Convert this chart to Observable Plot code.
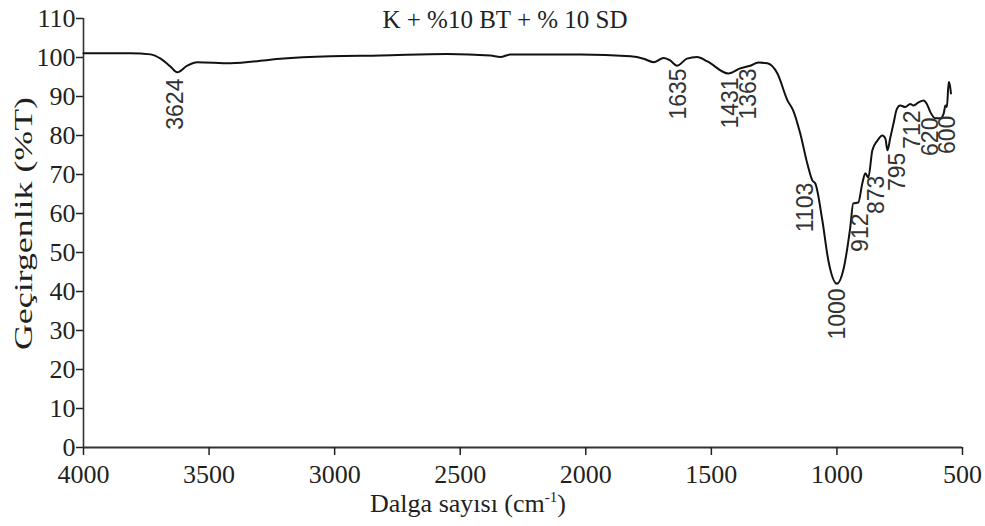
<!DOCTYPE html>
<html><head><meta charset="utf-8">
<script src="https://cdn.jsdelivr.net/npm/d3@7"></script>
<script src="https://cdn.jsdelivr.net/npm/@observablehq/plot@0.6"></script>
<style>body{margin:0;background:#fff}</style>
</head><body><div id="chart"></div>
<script>
const wavenumber = [4000,3985,3813,3733,3693,3654,3627,3587,3547,3415,3216,3017,2818,2552,2380,2340,2300,2021,1822,1770,1730,1690,1663,1637,1597,1557,1516,1432,1385,1345,1313,1277,1237,1197,1174,1146,1118,1098,1086,1058,1034,1000,975,947,935,915,899,887,875,859,839,819,807,799,787,775,762,748,728,708,695,675,655,642,628,608,588,575,568,562,555,549,546];
const transmittance = [101.1,101.1,101.1,100.8,99.7,97.7,96.2,97.9,98.8,98.5,99.7,100.3,100.5,100.9,100.5,100.1,100.8,100.8,100.3,99.7,98.8,99.9,99.2,97.9,99.7,100.1,99.0,95.9,97.2,97.9,98.7,98.5,95.9,89.0,86.4,80.5,72.8,68.5,67.7,58.2,47.9,42.0,45.4,56.4,62.6,62.8,67.7,70.3,69.2,76.2,78.7,80.0,79.2,76.2,79.6,83.0,86.7,87.7,87.3,88.1,87.7,88.5,89.0,88.1,86.0,84.4,84.4,85.6,87.7,87.3,93.7,92.4,90.8];
const peakLabels = ["3624","1635","1431","1363","1103","1000","912","873","795","712","620","600"];
const peakLabelX = [3634,1631,1424,1353,1126,998,907,840,760,700,628,560];
const peakLabelTop = [94.6,97.2,94.9,97.2,67.9,40.8,60.0,69.7,75.6,86.4,84.6,85.1];
const xTicks = [4000,3500,3000,2500,2000,1500,1000,500];
const yTicks = [0,10,20,30,40,50,60,70,80,90,100,110];
const title = "K + %10 BT + % 10 SD";
const xLabel = "Dalga sayısı (cm";
const xLabelSup = "-1";
const yLabel = "Geçirgenlik (%T)";

const spectrum = wavenumber.map((w, i) => ({w, t: transmittance[i]}));
const peaks = peakLabels.map((s, i) => ({s, x: peakLabelX[i], y: peakLabelTop[i]}));

const chart = Plot.plot({
  width: 985, height: 526,
  marginLeft: 83, marginRight: 23, marginTop: 18, marginBottom: 79,
  style: {fontFamily: "'Liberation Serif', 'Times New Roman', serif", fontSize: "26px", color: "#231f20", background: "#fff"},
  x: {domain: [4000, 500], label: null},
  y: {domain: [0, 110], label: null},
  marks: [
    Plot.ruleY([0], {strokeWidth: 2.2, stroke: "#333"}),
    Plot.ruleX([4000], {strokeWidth: 1.6, stroke: "#333"}),
    Plot.axisX({ticks: xTicks, tickSize: 8, tickPadding: 9, tickFormat: d => String(d), label: null, fontSize: 26, strokeWidth: 1.5}),
    Plot.axisY({ticks: yTicks, tickSize: 7, tickPadding: 1, tickFormat: d => String(d), label: null, fontSize: 26, strokeWidth: 1.5}),
    Plot.line(spectrum, {x: "w", y: "t", stroke: "#111", strokeWidth: 2, curve: "monotone-x"}),
    Plot.text(peaks, {x: "x", y: "y", text: "s", rotate: -90, textAnchor: "end", lineAnchor: "middle", fontFamily: "'Liberation Sans', Arial, sans-serif", fontSize: 23, fill: "#333"}),
    Plot.text([title], {text: d => d, frameAnchor: "top", dx: -18, dy: 1, fontSize: 25, lineAnchor: "middle"}),
    Plot.text([xLabel], {text: d => d, frameAnchor: "bottom", dx: -55, dy: 56, fontSize: 26, lineAnchor: "middle"}),
    Plot.text([yLabel], {text: d => d, frameAnchor: "left", dx: -60, dy: 117, rotate: -90, textAnchor: "start", fontSize: 26, lineAnchor: "middle"})
  ]
});

const svg = d3.select(chart);
svg.selectAll("text").filter(function() { return this.textContent === yLabel; })
  .attr("textLength", 253).attr("lengthAdjust", "spacingAndGlyphs");
const xt = svg.selectAll("text").filter(function() { return this.textContent === xLabel; });
xt.append("tspan").attr("dy", -10).attr("font-size", 15).text(xLabelSup);
xt.append("tspan").attr("dy", 10).text(")");

document.getElementById("chart").appendChild(chart);
</script>
</body></html>
